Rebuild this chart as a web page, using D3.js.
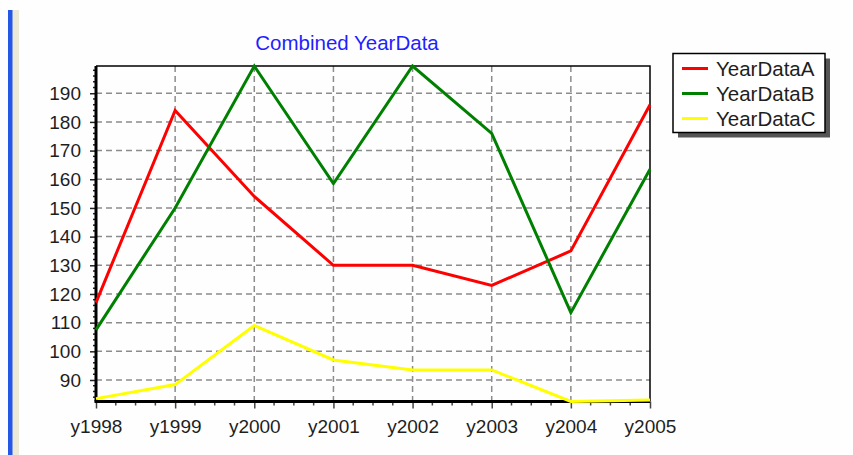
<!DOCTYPE html>
<html>
<head>
<meta charset="utf-8">
<script src="https://cdn.jsdelivr.net/npm/d3@7"></script>
<style>
  body { margin: 0; background: #fefefe; }
  svg { display: block; }
</style>
</head>
<body>
<div id="chart"></div>
<script>
var width = 853;
var height = 455;

var years = ["y1998", "y1999", "y2000", "y2001", "y2002", "y2003", "y2004", "y2005"];
var yearDataA = [117, 184, 154, 130, 130, 123, 135, 186];
var yearDataB = [107.5, 150, 199.5, 158.5, 199.5, 176, 113.5, 163.5];
var yearDataC = [83.5, 88.4, 109, 97, 93.5, 93.5, 82.5, 83];
var seriesNames = ["YearDataA", "YearDataB", "YearDataC"];
var seriesColors = ["#ff0000", "#008000", "#ffff00"];
var yTicks = [90, 100, 110, 120, 130, 140, 150, 160, 170, 180, 190];

var margin = {top: 66, right: 203, bottom: 53.5, left: 96};

function buildChart(){
  var series = [yearDataA, yearDataB, yearDataC];
  var all = series.flat();

  var svg = d3.select("#chart").append("svg")
      .attr("width", width)
      .attr("height", height)
      .style("font-family", "'Liberation Sans', Arial, sans-serif");

  // window frame on the left
  svg.append("rect").attr("x", 8).attr("y", 10).attr("width", 5).attr("height", height - 10).attr("fill", "#2457e6");
  svg.append("rect").attr("x", 12.5).attr("y", 10).attr("width", 6.5).attr("height", height - 10).attr("fill", "#ece9d8");

  var x = d3.scalePoint()
      .domain(years)
      .range([margin.left, width - margin.right]);
  var xi = d3.scaleLinear()
      .domain([0, years.length - 1])
      .range([margin.left, width - margin.right]);
  var y = d3.scaleLinear()
      .domain(d3.extent(all))
      .range([height - margin.bottom, margin.top]);

  var x0 = margin.left, x1 = width - margin.right;
  var y0 = height - margin.bottom, y1 = margin.top;

  // title
  svg.append("text")
      .attr("x", 347)
      .attr("y", 50)
      .attr("text-anchor", "middle")
      .attr("fill", "#1f1fff")
      .style("font-size", "20.5px")
      .text("Combined YearData");

  // grid
  var grid = svg.append("g")
      .attr("stroke", "#8c8c8c")
      .attr("stroke-width", 1.5)
      .attr("stroke-dasharray", "6,4");
  grid.selectAll("line.h")
    .data(yTicks)
    .join("line")
      .attr("x1", x0).attr("x2", x1)
      .attr("y1", d => y(d)).attr("y2", d => y(d));
  grid.selectAll("line.v")
    .data(years.slice(1, -1))
    .join("line")
      .attr("x1", d => x(d)).attr("x2", d => x(d))
      .attr("y1", y1).attr("y2", y0);

  // frame (top/right thin)
  svg.append("path")
      .attr("fill", "none")
      .attr("stroke", "#000")
      .attr("stroke-width", 1.5)
      .attr("d", `M${x0},${y1}H${x1}V${y0}`);

  // y axis
  var yAxis = svg.append("g")
      .attr("transform", `translate(${x0},0)`)
      .call(d3.axisLeft(y).tickValues(yTicks).tickSize(6).tickPadding(9));
  yAxis.select(".domain").remove();
  yAxis.selectAll(".tick line").attr("stroke", "#222").attr("stroke-width", 1.5);
  yAxis.selectAll(".tick text")
      .attr("fill", "#1e1e1e")
      .style("font-size", "19px")
      .style("font-family", "'Liberation Sans', Arial, sans-serif");
  yAxis.selectAll("line.minor")
    .data(d3.range(84, 199.6, 2).filter(v => v % 10 != 0))
    .join("line")
      .attr("class", "minor")
      .attr("x1", -3).attr("x2", 0)
      .attr("y1", d => y(d)).attr("y2", d => y(d))
      .attr("stroke", "#222").attr("stroke-width", 1.5);
  yAxis.append("line")
      .attr("x1", 0).attr("x2", 0)
      .attr("y1", y1).attr("y2", y0)
      .attr("stroke", "#000").attr("stroke-width", 3);

  // x axis
  var xAxis = svg.append("g")
      .attr("transform", `translate(0,${y0})`)
      .call(d3.axisBottom(x).tickSize(7).tickPadding(11));
  xAxis.select(".domain").remove();
  xAxis.selectAll(".tick line").attr("stroke", "#444").attr("stroke-width", 1.5);
  xAxis.selectAll(".tick text")
      .attr("fill", "#1e1e1e")
      .style("font-size", "19px")
      .style("font-family", "'Liberation Sans', Arial, sans-serif");
  xAxis.selectAll("line.minor")
    .data(d3.range(0, years.length - 1, 0.25).filter(v => v % 1 != 0))
    .join("line")
      .attr("class", "minor")
      .attr("x1", d => xi(d)).attr("x2", d => xi(d))
      .attr("y1", 0).attr("y2", 4)
      .attr("stroke", "#444").attr("stroke-width", 1.5);
  xAxis.append("line")
      .attr("x1", x0 - 1.5).attr("x2", x1)
      .attr("y1", 0).attr("y2", 0)
      .attr("stroke", "#000").attr("stroke-width", 3);

  // lines, drawn over the axes
  var line = d3.line()
      .x((d, i) => x(years[i]))
      .y(d => y(d));
  svg.append("g")
      .attr("fill", "none")
      .attr("stroke-width", 3)
      .attr("stroke-linejoin", "miter")
    .selectAll("path")
    .data(series)
    .join("path")
      .attr("stroke", (d, i) => seriesColors[i])
      .attr("d", line);

  // legend
  var legend = svg.append("g").attr("transform", "translate(673,53.5)");
  legend.append("rect")
      .attr("x", 5).attr("y", 5)
      .attr("width", 152).attr("height", 79)
      .attr("fill", "#555");
  legend.append("rect")
      .attr("width", 152).attr("height", 79)
      .attr("fill", "#fff")
      .attr("stroke", "#000")
      .attr("stroke-width", 1.5);
  var item = legend.selectAll("g.item")
    .data(seriesNames)
    .join("g")
      .attr("class", "item")
      .attr("transform", (d, i) => `translate(0,${15 + i * 25})`);
  item.append("line")
      .attr("x1", 9).attr("x2", 35)
      .attr("stroke", (d, i) => seriesColors[i])
      .attr("stroke-width", 3);
  item.append("text")
      .attr("x", 43)
      .attr("y", 0)
      .attr("dy", "0.35em")
      .attr("fill", "#1e1e1e")
      .style("font-size", "20.5px")
      .text(d => d);
}

buildChart();
</script>
</body>
</html>
